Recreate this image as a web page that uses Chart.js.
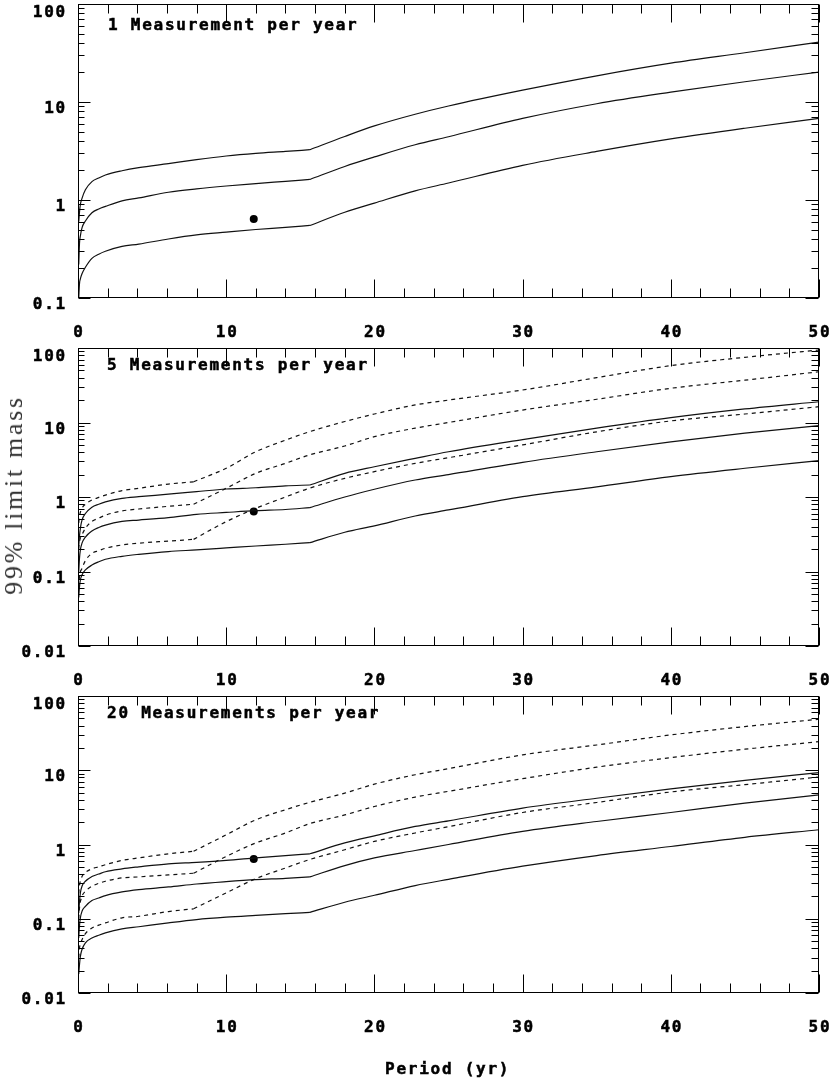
<!DOCTYPE html>
<html><head><meta charset="utf-8">
<script src="https://cdn.jsdelivr.net/npm/chart.js@4/dist/chart.umd.min.js"></script>
<style>
html,body{margin:0;padding:0;background:#fff;width:830px;height:1079px;overflow:hidden;position:relative;}
canvas{position:absolute;left:0;}
.t{position:absolute;font:bold 16px "DejaVu Sans Mono",monospace;letter-spacing:1.75px;color:#000;-webkit-text-stroke:0.5px #000;white-space:nowrap;line-height:1;}
#ytitle{position:absolute;left:14px;top:495px;transform:translate(-50%,-50%) rotate(-90deg);font:26px "Liberation Serif",serif;letter-spacing:2.7px;color:#333;white-space:nowrap;line-height:1;}
</style></head><body>
<canvas id="c1" width="830" height="340" style="top:0"></canvas>
<canvas id="c2" width="830" height="348" style="top:340px"></canvas>
<canvas id="c3" width="830" height="391" style="top:688px"></canvas>
<div class="t" style="left:108px;top:17px">1 Measurement per year</div>
<div class="t" style="left:107px;top:357px">5 Measurements per year</div>
<div class="t" style="left:107px;top:705px">20 Measurements per year</div>
<div id="ytitle">99% limit mass</div>
<div class="t" style="left:385px;top:1061px">Period (yr)</div>
<script>
// ---- data ----
const periodsSolid  = [0.05,0.1,0.16,0.27,0.5,0.94,1.4,1.85,2.97,4.1,6.1,8,10,12,14,15.65,18,20,22.75,25,30,35,40,45,50];
const periodsDashed = [0.05,0.1,0.27,0.5,0.94,1.4,1.85,2.97,4.1,6.1,7.8,10,12,14,15.6,18,20,22.75,25,30,35,40,45,50];
const solidKink = 15.65;
const dashedKink = 7.8;

// 1 measurement per year (solid)
const p1Top = [0.6,0.75,0.9,1.04,1.27,1.54,1.68,1.8,1.99,2.14,2.35,2.58,2.81,2.99,3.13,3.26,4.45,5.7,7.5,9.1,13.2,18.5,24.9,31.8,40.8];
const p1Mid = [0.22,0.36,0.43,0.52,0.61,0.74,0.81,0.86,0.98,1.05,1.2,1.3,1.39,1.47,1.55,1.62,2.2,2.75,3.66,4.42,6.8,9.6,12.6,16.1,20.2];
const p1Low = [0.1,0.14,0.157,0.177,0.206,0.254,0.28,0.30,0.336,0.355,0.40,0.44,0.47,0.5,0.525,0.55,0.75,0.93,1.24,1.49,2.26,3.13,4.2,5.4,6.8];

// 5 measurements per year
const p2Top = [0.22,0.3,0.38,0.49,0.6,0.73,0.8,0.86,0.96,1.01,1.09,1.18,1.28,1.33,1.41,1.45,2.08,2.55,3.3,4.05,5.9,8.4,11.6,15.2,19];
const p2Mid = [0.1,0.15,0.195,0.24,0.29,0.35,0.39,0.42,0.47,0.49,0.53,0.585,0.62,0.655,0.68,0.72,1.0,1.27,1.69,2.0,2.92,4.05,5.5,7.2,9.1];
const p2Low = [0.045,0.062,0.077,0.09,0.105,0.122,0.135,0.146,0.16,0.17,0.185,0.195,0.207,0.22,0.232,0.244,0.336,0.41,0.556,0.67,1.01,1.37,1.88,2.43,3.07];
const p2DTop = [0.45,0.55,0.705,0.8,0.91,0.99,1.06,1.22,1.31,1.49,1.6,2.43,4.05,5.8,7.5,10.3,13,17.2,20,27.3,40,58,75,94];
const p2DMid = [0.2,0.25,0.31,0.38,0.47,0.52,0.57,0.65,0.69,0.75,0.8,1.31,2.08,2.83,3.66,4.84,6.45,8.4,10,14.7,20.5,28.8,37,48];
const p2DLow = [0.06,0.085,0.11,0.14,0.175,0.19,0.205,0.227,0.24,0.256,0.27,0.467,0.705,1.0,1.31,1.78,2.19,2.83,3.37,5.0,7.5,10.5,13,16.3];

// 20 measurements per year
const p3Top = [0.12,0.17,0.223,0.274,0.32,0.37,0.4,0.43,0.47,0.5,0.55,0.575,0.61,0.66,0.71,0.75,1.05,1.31,1.75,2.08,3.09,4.2,5.6,7.3,9.3];
const p3Mid = [0.055,0.08,0.103,0.126,0.147,0.176,0.19,0.205,0.23,0.247,0.268,0.294,0.316,0.336,0.35,0.366,0.52,0.66,0.83,1.0,1.5,2.04,2.7,3.6,4.67];
const p3Low = [0.018,0.024,0.031,0.0386,0.0474,0.055,0.06,0.0645,0.073,0.078,0.088,0.0975,0.105,0.111,0.117,0.122,0.167,0.207,0.28,0.34,0.51,0.71,0.94,1.25,1.58];
const p3DTop = [0.22,0.28,0.37,0.42,0.47,0.5,0.535,0.61,0.66,0.75,0.81,1.35,2.15,2.94,3.68,4.92,6.5,8.7,10.5,16.1,21.9,29.9,38.8,48.6];
const p3DMid = [0.1,0.14,0.2,0.234,0.274,0.3,0.32,0.355,0.366,0.39,0.41,0.69,1.05,1.43,1.9,2.5,3.25,4.35,5.2,7.7,11,14.8,19.2,24.3];
const p3DLow = [0.03,0.04,0.052,0.063,0.075,0.082,0.088,0.103,0.108,0.125,0.136,0.223,0.347,0.483,0.625,0.85,1.1,1.43,1.74,2.7,3.68,5.1,6.4,8.1];

// Jupiter-like marker
const markerPeriod = [11.86];
const markerMass = [0.64];

// tick labels
const xTickLabels = ['0','10','20','30','40','50'];
const yTickLabelsTop = ['0.1','1','10','100'];
const yTickLabelsLower = ['0.01','0.1','1','10','100'];

// ---- drawing ----
const framePlugin = {
  id: 'frame',
  afterDraw(chart, args, opts) {
    const {ctx, chartArea: a, scales: {x, y}} = chart;
    ctx.save();
    ctx.strokeStyle = '#000';
    ctx.lineWidth = 1;
    const L = Math.round(a.left) + 0.5, R = Math.round(a.right) - 0.5;
    const T = Math.round(a.top) + 0.5, B = Math.round(a.bottom) - 0.5;
    ctx.strokeRect(L, T, R - L, B - T);
    ctx.beginPath();
    for (let v = x.min; v <= x.max + 1e-9; v += 2) {
      const px = Math.round(x.getPixelForValue(v)) + 0.5;
      const len = (v % 10 === 0) ? 18 : 9;
      ctx.moveTo(px, B); ctx.lineTo(px, B - len);
      ctx.moveTo(px, T); ctx.lineTo(px, T + len);
    }
    const dMin = Math.round(Math.log10(y.min)), dMax = Math.round(Math.log10(y.max));
    for (let d = dMin; d <= dMax; d++) {
      for (let k = 1; k <= 9; k++) {
        const v = k * Math.pow(10, d);
        if (v < y.min * 0.999 || v > y.max * 1.001) continue;
        const py = Math.round(y.getPixelForValue(v)) + 0.5;
        const lenL = k === 1 ? 12 : 6, lenR = k === 1 ? 13 : 7;
        ctx.moveTo(L, py); ctx.lineTo(L + lenL, py);
        ctx.moveTo(R, py); ctx.lineTo(R - lenR, py);
      }
    }
    ctx.stroke();
    ctx.fillStyle = '#000';
    ctx.strokeStyle = '#000';
    ctx.lineWidth = 0.5;
    ctx.font = 'bold 16px "DejaVu Sans Mono", monospace';
    try { ctx.letterSpacing = '1.75px'; } catch (e) {}
    ctx.textBaseline = 'middle';
    ctx.textAlign = 'right';
    opts.yLabels.forEach(s => {
      const py = y.getPixelForValue(parseFloat(s));
      const yy = Math.max(py + 7, a.top + 9);
      ctx.fillText(s, 67, yy);
      ctx.strokeText(s, 67, yy);
    });
    ctx.textAlign = 'center';
    opts.xLabels.forEach(s => {
      const px = x.getPixelForValue(parseFloat(s));
      ctx.fillText(s, px + 1, a.bottom + 35);
      ctx.strokeText(s, px + 1, a.bottom + 35);
    });
    ctx.restore();
  }
};

// a curve is drawn as two smooth pieces joined at its kink
function curve(periods, vals, kink, dashed) {
  const pts = periods.map((p, i) => ({x: p, y: vals[i]}));
  const style = {
    borderColor: '#111',
    borderWidth: 1.2,
    borderDash: dashed ? [4, 4] : [],
    pointRadius: 0,
    fill: false,
    cubicInterpolationMode: 'monotone'
  };
  return [
    Object.assign({data: pts.filter(d => d.x <= kink)}, style),
    Object.assign({data: pts.filter(d => d.x >= kink)}, style)
  ];
}
function marker() {
  return {
    data: markerPeriod.map((p, i) => ({x: p, y: markerMass[i]})),
    showLine: false,
    pointRadius: 4,
    pointBackgroundColor: '#000',
    pointBorderColor: '#000',
    borderWidth: 0
  };
}

function makeChart(id, datasets, ymin, padTop, padBottom, yLabels) {
  return new Chart(document.getElementById(id), {
    type: 'line',
    data: { datasets },
    options: {
      responsive: false,
      animation: false,
      devicePixelRatio: 1,
      layout: { padding: { left: 78, right: 11, top: padTop, bottom: padBottom } },
      scales: {
        x: { type: 'linear', min: 0, max: 50, display: false },
        y: { type: 'logarithmic', min: ymin, max: 100, display: false }
      },
      plugins: {
        legend: { display: false },
        tooltip: { enabled: false },
        frame: { yLabels, xLabels: xTickLabels }
      }
    },
    plugins: [framePlugin]
  });
}

makeChart('c1', [
  ...curve(periodsSolid, p1Top, solidKink), ...curve(periodsSolid, p1Mid, solidKink), ...curve(periodsSolid, p1Low, solidKink),
  marker()
], 0.1, 0, 42, yTickLabelsTop);

makeChart('c2', [
  ...curve(periodsSolid, p2Top, solidKink), ...curve(periodsSolid, p2Mid, solidKink), ...curve(periodsSolid, p2Low, solidKink),
  ...curve(periodsDashed, p2DTop, dashedKink, true), ...curve(periodsDashed, p2DMid, dashedKink, true), ...curve(periodsDashed, p2DLow, dashedKink, true),
  marker()
], 0.01, 8, 42, yTickLabelsLower);

makeChart('c3', [
  ...curve(periodsSolid, p3Top, solidKink), ...curve(periodsSolid, p3Mid, solidKink), ...curve(periodsSolid, p3Low, solidKink),
  ...curve(periodsDashed, p3DTop, dashedKink, true), ...curve(periodsDashed, p3DMid, dashedKink, true), ...curve(periodsDashed, p3DLow, dashedKink, true),
  marker()
], 0.01, 8, 86, yTickLabelsLower);
</script>
</body></html>
